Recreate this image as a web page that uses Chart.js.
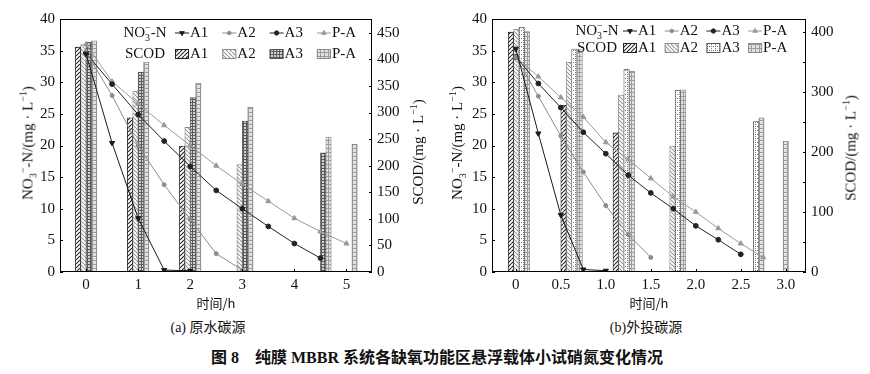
<!DOCTYPE html>
<html>
<head>
<meta charset="utf-8">
<script src="https://cdn.jsdelivr.net/npm/chart.js@4.4.0/dist/chart.umd.min.js"></script>
<style>
body { margin: 0; background: #fff; width: 870px; height: 374px; position: relative; overflow: hidden;
       font-family: "Liberation Serif", "Noto Sans CJK SC", serif; color: #111; }
canvas { position: absolute; top: 0; }
.ytitle { position: absolute; white-space: nowrap; font-size: 15px; transform: translate(-50%, -50%) rotate(-90deg); }
.cap { position: absolute; white-space: nowrap; transform: translateX(-50%); font-size: 14px; }
sub, sup { font-size: 10px; }
</style>
</head>
<body>
<canvas id="chartA" width="435" height="311" style="left:0"></canvas>
<canvas id="chartB" width="435" height="311" style="left:435px"></canvas>

<div class="ytitle" style="left:28px;top:143px">NO<sub>3</sub><sup>−</sup>-N/(mg · L<sup>−1</sup>)</div>
<div class="ytitle" style="left:417px;top:152px">SCOD/(mg · L<sup>−1</sup>)</div>
<div class="ytitle" style="left:457px;top:143px">NO<sub>3</sub><sup>−</sup>-N/(mg · L<sup>−1</sup>)</div>
<div class="ytitle" style="left:850px;top:148px">SCOD/(mg · L<sup>−1</sup>)</div>

<div class="cap" style="left:208px;top:316px">(a) 原水碳源</div>
<div class="cap" style="left:646px;top:316px">(b)外投碳源</div>
<div class="cap" style="left:437px;top:344px;font-size:16px;font-weight:bold">图 8　纯膜 MBBR 系统各缺氧功能区悬浮载体小试硝氮变化情况</div>

<script>
// ---- (a) raw-water carbon source ----
const timeA1a = [0, 0.5, 1, 1.5, 2];
const noA1a = [34.5, 20.4, 8.5, 0.3, 0.2];
const timeA2a = [0, 0.5, 1, 1.5, 2, 2.5, 3];
const noA2a = [34.8, 27.9, 20.0, 13.8, 8.3, 2.9, 0.3];
const timeA3a = [0, 0.5, 1, 1.5, 2, 2.5, 3, 3.5, 4, 4.5];
const noA3a = [34.6, 29.7, 24.9, 20.7, 16.7, 12.9, 10.0, 7.2, 4.5, 2.2];
const timePAa = [0, 0.5, 1, 1.5, 2, 2.5, 3, 3.5, 4, 4.5, 5];
const noPAa = [36.0, 30.1, 26.6, 23.2, 20.0, 16.8, 13.9, 11.2, 8.5, 6.4, 4.5];

const barTimeA = [0, 1, 2, 3, 4.5, 5];
const scodA1a = [423, 290, 237, null, null, null];
const scodA2a = [428, 340, 272, 202, null, null];
const scodA3a = [432, 376, 328, 284, 224, null];
const scodPAa = [435, 395, 355, 310, 254, 240];

// ---- (b) external carbon source ----
const timeA1b = [0, 0.25, 0.5, 0.75, 1];
const noA1b = [35.3, 21.9, 9.0, 0.4, 0.2];
const timeA2b = [0, 0.25, 0.5, 0.75, 1, 1.25, 1.5];
const noA2b = [34.0, 27.8, 21.5, 15.8, 10.5, 5.9, 2.3];
const timeA3b = [0, 0.25, 0.5, 0.75, 1, 1.25, 1.5, 1.75, 2, 2.25, 2.5];
const noA3b = [34.0, 29.8, 26.0, 22.1, 18.7, 15.3, 12.5, 10.0, 7.3, 5.1, 2.8];
const timePAb = [0, 0.25, 0.5, 0.75, 1, 1.25, 1.5, 1.75, 2, 2.25, 2.5, 2.75];
const noPAb = [34.0, 30.9, 27.6, 24.5, 20.5, 17.8, 14.8, 11.9, 9.5, 6.9, 4.5, 2.3];

const barTimeB = [0.035, 0.62, 1.2, 1.77, 2.64, 2.91];
const scodA1b = [400, 278, 232, null, null, null];
const scodA2b = [405, 350, 295, 210, null, null];
const scodA3b = [408, 372, 338, 303, 251, null];
const scodPAb = [401, 371, 335, 304, 257, 218];

const seriesNames = ['A1', 'A2', 'A3', 'P-A'];
const serif = '"Liberation Serif", serif';

function makePattern(size, bg, draw) {
    const c = document.createElement('canvas');
    c.width = c.height = size;
    const g = c.getContext('2d');
    g.fillStyle = bg;
    g.fillRect(0, 0, size, size);
    draw(g, size);
    return g.createPattern(c, 'repeat');
}

function diag(g, s, color, up) {
    g.strokeStyle = color;
    g.lineWidth = 1.1;
    g.beginPath();
    for (let k = -1; k <= 1; k++) {
        if (up) { g.moveTo(k * s, s); g.lineTo(k * s + s, 0); }
        else { g.moveTo(k * s, 0); g.lineTo(k * s + s, s); }
    }
    g.stroke();
}

const patA1 = makePattern(4, '#fff', (g, s) => diag(g, s, '#262626', true));
const patA2 = makePattern(4, '#fff', (g, s) => diag(g, s, '#9a9a9a', false));
const patA3a = makePattern(3, '#d2d2d2', g => { g.fillStyle = '#5a5a5a'; g.fillRect(0, 0, 3, 1); g.fillRect(0, 0, 1, 3); });
const patA3b = makePattern(4, '#fff', g => { g.fillStyle = '#7a7a7a'; g.fillRect(0, 0, 1, 1); g.fillRect(2, 2, 1, 1); g.fillRect(0, 2, 1, 1); });
const patPA = makePattern(4, '#e2e2e2', g => { g.fillStyle = '#9c9c9c'; g.fillRect(0, 0, 4, 1); g.fillRect(0, 0, 1, 4); });

const lineStyles = [
    { color: '#1a1a1a', pointStyle: 'triangle', rotation: 180, radius: 3.0 },
    { color: '#8c8c8c', pointStyle: 'circle', rotation: 0, radius: 2.0 },
    { color: '#222222', pointStyle: 'circle', rotation: 0, radius: 2.4 },
    { color: '#999999', pointStyle: 'triangle', rotation: 0, radius: 2.9 }
];
const barBorders = ['#222', '#8a8a8a', '#555', '#8a8a8a'];

function toXY(xs, ys) {
    return xs.map((x, i) => ({ x: x, y: ys[i] }));
}

function drawNO3(ctx, cx, y) {
    ctx.font = '15px ' + serif;
    const w1 = ctx.measureText('NO').width;
    const w3 = ctx.measureText('-N').width;
    ctx.font = '10px ' + serif;
    const w2 = ctx.measureText('−').width;
    let x = cx - (w1 + w2 + w3) / 2;
    ctx.textAlign = 'left';
    ctx.textBaseline = 'middle';
    ctx.font = '15px ' + serif;
    ctx.fillText('NO', x, y);
    x += w1;
    ctx.font = '10px ' + serif;
    ctx.fillText('3', x, y + 5);
    ctx.fillText('−', x, y - 5);
    x += w2;
    ctx.font = '15px ' + serif;
    ctx.fillText('-N', x, y);
}

const framePlugin = {
    id: 'frame',
    afterDraw(chart, args, opts) {
        const ctx = chart.ctx;
        const a = chart.chartArea;
        ctx.save();
        ctx.strokeStyle = '#000';
        ctx.lineWidth = 1;
        ctx.strokeRect(a.left + 0.5, a.top + 0.5, a.right - a.left - 1, a.bottom - a.top - 1);

        // small inward tick marks
        ctx.beginPath();
        chart.scales.x.ticks.forEach(t => {
            const px = Math.round(chart.scales.x.getPixelForValue(t.value)) + 0.5;
            ctx.moveTo(px, a.bottom); ctx.lineTo(px, a.bottom - 3);
        });
        chart.scales.y.ticks.forEach(t => {
            const py = Math.round(chart.scales.y.getPixelForValue(t.value)) + 0.5;
            ctx.moveTo(a.left, py); ctx.lineTo(a.left + 3, py);
        });
        chart.scales.y2.ticks.forEach(t => {
            const py = Math.round(chart.scales.y2.getPixelForValue(t.value)) + 0.5;
            ctx.moveTo(a.right, py); ctx.lineTo(a.right - 3, py);
        });
        ctx.stroke();

        // two-row legend: NO3-N lines, SCOD boxes
        ctx.fillStyle = '#111';
        drawNO3(ctx, opts.labelX, opts.row1);
        ctx.font = '15px ' + serif;
        ctx.textAlign = 'center';
        ctx.fillText('SCOD', opts.labelX, opts.row2);
        ctx.textAlign = 'left';
        seriesNames.forEach((name, i) => {
            const x0 = opts.startX + i * opts.stride;
            const st = lineStyles[i];
            ctx.strokeStyle = st.color;
            ctx.fillStyle = st.color;
            ctx.lineWidth = 1;
            ctx.beginPath();
            ctx.moveTo(x0, opts.row1); ctx.lineTo(x0 + 14, opts.row1);
            ctx.stroke();
            Chart.helpers.drawPoint(ctx, { pointStyle: st.pointStyle, rotation: st.rotation, radius: st.radius * 0.9, borderWidth: 1 }, x0 + 7, opts.row1);
            ctx.fillStyle = '#111';
            ctx.fillText(name, x0 + 15, opts.row1);

            ctx.fillStyle = opts.patterns[i];
            ctx.fillRect(x0, opts.row2 - 5, 14, 10);
            ctx.strokeStyle = barBorders[i];
            ctx.strokeRect(x0 + 0.5, opts.row2 - 4.5, 13, 9);
            ctx.fillStyle = '#111';
            ctx.fillText(name, x0 + 15, opts.row2);
        });
        ctx.restore();
    }
};

function buildChart(id, cfg) {
    const datasets = [];
    cfg.lines.forEach((ln, i) => {
        const st = lineStyles[i];
        datasets.push({
            type: 'line', label: seriesNames[i], data: toXY(ln[0], ln[1]),
            xAxisID: 'x', yAxisID: 'y', order: 0,
            borderColor: st.color, backgroundColor: st.color, borderWidth: 1,
            pointStyle: st.pointStyle, pointRotation: st.rotation, pointRadius: st.radius,
            pointBorderWidth: 1, fill: false, tension: 0
        });
    });
    cfg.bars.forEach((vals, i) => {
        datasets.push({
            type: 'bar', label: 'SCOD ' + seriesNames[i], data: toXY(cfg.barTime, vals),
            xAxisID: 'x', yAxisID: 'y2', order: 1,
            backgroundColor: cfg.patterns[i], borderColor: barBorders[i], borderWidth: 0.8,
            barThickness: 5.4
        });
    });

    const tickFont = { family: serif, size: 15 };
    return new Chart(document.getElementById(id), {
        type: 'bar',
        data: { datasets: datasets },
        options: {
            responsive: false,
            animation: false,
            layout: { padding: { top: 19, left: 0, right: 0, bottom: 0 } },
            plugins: {
                legend: { display: false },
                tooltip: { enabled: false },
                frame: cfg.legend
            },
            scales: {
                x: {
                    type: 'linear', offset: false, min: cfg.xMin, max: cfg.xMax,
                    afterFit: s => { s.height = 39; },
                    border: { display: false },
                    grid: { display: false, drawTicks: false },
                    ticks: { stepSize: cfg.xStep, padding: 4, color: '#111', font: tickFont,
                             autoSkip: false, maxRotation: 0, includeBounds: false, callback: cfg.xLabel },
                    title: { display: true, text: '时间/h', color: '#111', padding: 0,
                             font: { family: '"Noto Sans CJK SC", sans-serif', size: 13 } }
                },
                y: {
                    position: 'left', min: 0, max: 40,
                    afterFit: s => { s.width = cfg.leftW; },
                    border: { display: false },
                    grid: { display: false, drawTicks: false },
                    ticks: { stepSize: 5, padding: 5, color: '#111', font: tickFont }
                },
                y2: {
                    position: 'right', min: 0, max: cfg.rightMax,
                    afterFit: s => { s.width = cfg.rightW; },
                    border: { display: false },
                    grid: { display: false, drawTicks: false },
                    ticks: { stepSize: 50, padding: 5, color: '#111', font: tickFont, includeBounds: false,
                             callback: cfg.rightLabel }
                }
            }
        },
        plugins: [framePlugin]
    });
}

buildChart('chartA', {
    lines: [[timeA1a, noA1a], [timeA2a, noA2a], [timeA3a, noA3a], [timePAa, noPAa]],
    barTime: barTimeA,
    bars: [scodA1a, scodA2a, scodA3a, scodPAa],
    patterns: [patA1, patA2, patA3a, patPA],
    xMin: -0.5, xMax: 5.49, xStep: 1,
    xLabel: v => String(v),
    leftW: 60, rightW: 63, rightMax: 476,
    rightLabel: v => String(v),
    legend: { labelX: 145, row1: 33, row2: 54, startX: 175, stride: 47.3,
              patterns: [patA1, patA2, patA3a, patPA] }
});

buildChart('chartB', {
    lines: [[timeA1b, noA1b], [timeA2b, noA2b], [timeA3b, noA3b], [timePAb, noPAb]],
    barTime: barTimeB,
    bars: [scodA1b, scodA2b, scodA3b, scodPAb],
    patterns: [patA1, patA2, patA3b, patPA],
    xMin: -0.265, xMax: 3.225, xStep: 0.5,
    xLabel: v => (v === 0 ? '0' : v.toFixed(1)),
    leftW: 57, rightW: 64, rightMax: 422,
    rightLabel: v => (v % 100 === 0 ? String(v) : ''),
    legend: { labelX: 162, row1: 31, row2: 48, startX: 188, stride: 41.7,
              patterns: [patA1, patA2, patA3b, patPA] }
});
</script>
</body>
</html>
